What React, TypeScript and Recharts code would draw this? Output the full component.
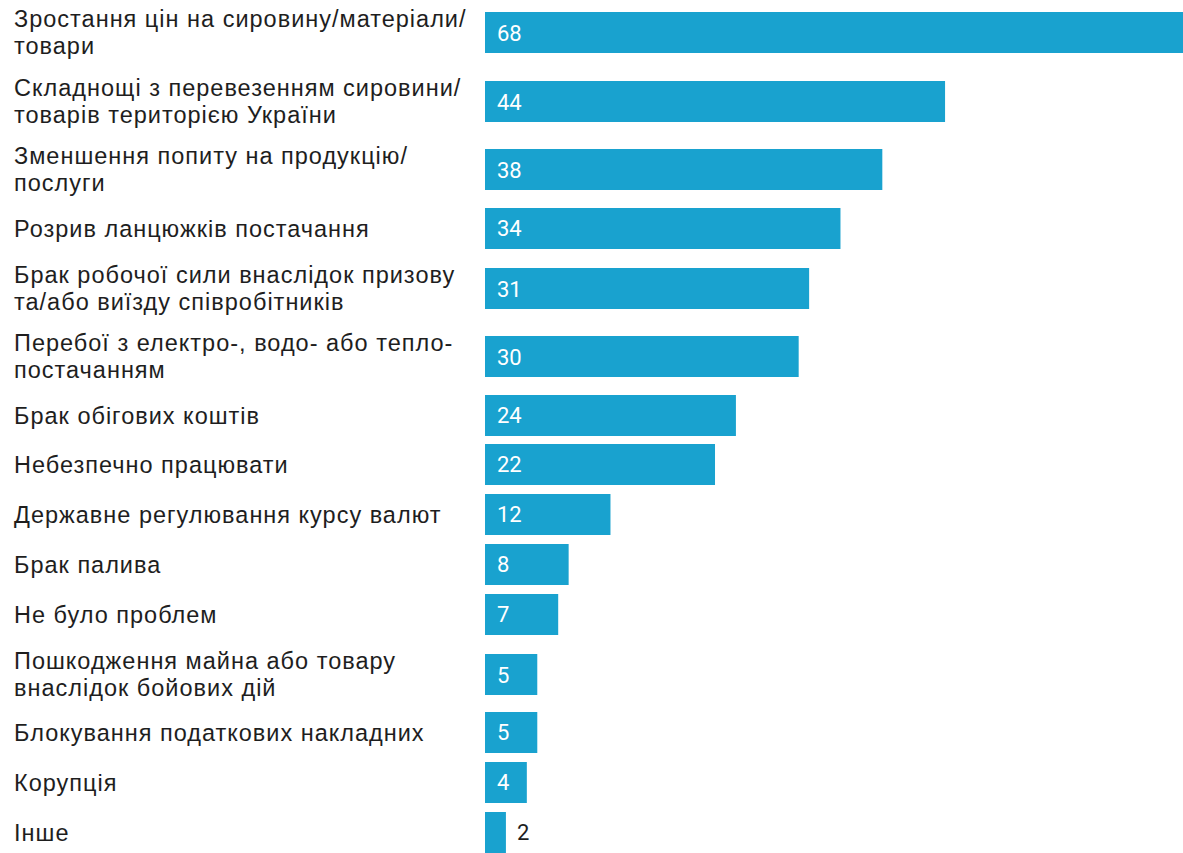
import { Bar, BarChart, LabelList, XAxis, YAxis } from "recharts";

// labels keep their original line breaks
const categories = [
  "Зростання цін на сировину/матеріали/\nтовари",
  "Складнощі з перевезенням сировини/\nтоварів територією України",
  "Зменшення попиту на продукцію/\nпослуги",
  "Розрив ланцюжків постачання",
  "Брак робочої сили внаслідок призову\nта/або виїзду співробітників",
  "Перебої з електро-, водо- або тепло-\nпостачанням",
  "Брак обігових коштів",
  "Небезпечно працювати",
  "Державне регулювання курсу валют",
  "Брак палива",
  "Не було проблем",
  "Пошкодження майна або товару\nвнаслідок бойових дій",
  "Блокування податкових накладних",
  "Корупція",
  "Інше",
];

const values = [68, 44, 38, 34, 31, 30, 24, 22, 12, 8, 7, 5, 5, 4, 2];

const maxValue = Math.max(...values);

const BAR_COLOR = "#19a2cf";
const TEXT_COLOR = "#1e1e1e";

function LabelTick({ y, payload }: { y?: number; payload?: { value: string } }) {
  const lines = String(payload?.value ?? "").split("\n");
  const cy = y ?? 0;
  const first = cy + 8 - (lines.length - 1) * 13.5;
  return (
    <text
      x={14}
      y={first}
      fill={TEXT_COLOR}
      fontSize={23.5}
      letterSpacing={1}
      fontFamily="'Liberation Sans', Arial, sans-serif"
    >
      {lines.map((line, i) => (
        <tspan key={i} x={14} dy={i === 0 ? 0 : 27}>
          {line}
        </tspan>
      ))}
    </text>
  );
}

function ValueLabel(props: {
  x?: number;
  y?: number;
  width?: number;
  height?: number;
  value?: number;
}) {
  const x = Number(props.x ?? 0);
  const y = Number(props.y ?? 0);
  const width = Number(props.width ?? 0);
  const height = Number(props.height ?? 0);
  const inside = width > 30;
  return (
    <text
      x={inside ? x + 12 : x + width + 11}
      y={y + height / 2 + 8}
      fill={inside ? "#ffffff" : TEXT_COLOR}
      fontSize={22}
      fontFamily="Roboto, sans-serif"
    >
      {props.value}
    </text>
  );
}

function Row({ label, value }: { label: string; value: number }) {
  const twoLines = label.includes("\n");
  const height = twoLines ? 68.5 : 49.85;
  return (
    <BarChart
      width={1196}
      height={height}
      data={[{ label, value }]}
      layout="vertical"
      margin={{ top: 0, right: 0, bottom: 0, left: 0 }}
    >
      <XAxis type="number" domain={[0, maxValue]} hide />
      <YAxis
        type="category"
        dataKey="label"
        width={485}
        axisLine={false}
        tickLine={false}
        tick={<LabelTick />}
      />
      <Bar dataKey="value" fill={BAR_COLOR} barSize={41} isAnimationActive={false}>
        <LabelList dataKey="value" content={<ValueLabel />} />
      </Bar>
    </BarChart>
  );
}

export default function App() {
  return (
    <div
      style={{
        width: 1183,
        height: 853,
        overflow: "hidden",
        position: "relative",
        background: "#ffffff",
      }}
    >
      <style>{"body{margin:0}"}</style>
      <div style={{ marginTop: -1.75 }}>
        {categories.map((c, i) => (
          <Row key={c} label={c} value={values[i]} />
        ))}
      </div>
    </div>
  );
}
